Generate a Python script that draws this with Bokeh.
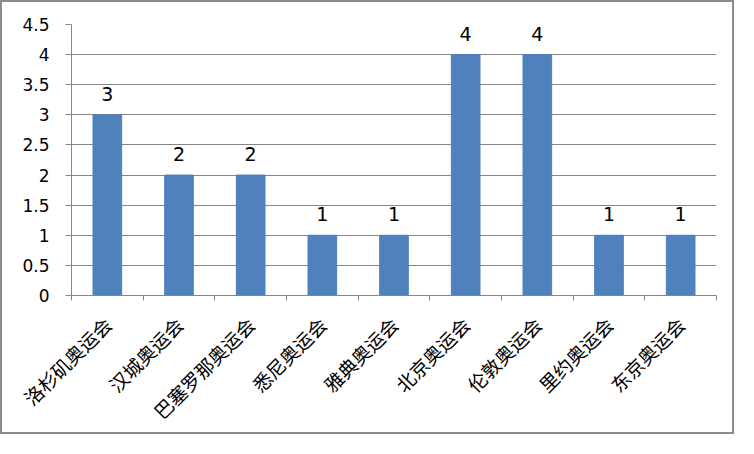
import math
from bokeh.plotting import figure
from bokeh.models import ColumnDataSource, FixedTicker, Range1d, LabelSet
from bokeh.core.properties import value
from bokeh.embed import file_html
from bokeh.resources import INLINE

categories = ["洛杉矶奥运会", "汉城奥运会", "巴塞罗那奥运会", "悉尼奥运会", "雅典奥运会",
              "北京奥运会", "伦敦奥运会", "里约奥运会", "东京奥运会"]
values = [3, 2, 2, 1, 1, 4, 4, 1, 1]
y_ticks = [0, 0.5, 1, 1.5, 2, 2.5, 3, 3.5, 4, 4.5]

xs = [i + 0.5 for i in range(len(categories))]
src = ColumnDataSource(dict(x=xs, top=values, label=[str(v) for v in values]))

p = figure(width=734, height=434, output_backend="svg", toolbar_location=None,
           x_range=Range1d(0, len(categories)), y_range=Range1d(0, 4.5),
           min_border_left=69, min_border_right=20, min_border_top=22, min_border_bottom=138)
p.styles = {"border": "2px solid #8c8c8c"}
p.outline_line_color = None
p.background_fill_color = "white"
p.border_fill_color = "white"

p.vbar(x="x", top="top", width=0.4, bottom=0, source=src, color="#4F81BD")
labels = LabelSet(x="x", y="top", text="label", source=src, text_align="center",
                  text_baseline="alphabetic", y_offset=14, text_font_size="19px",
                  text_font=value("DejaVu Sans"), text_color="black")
p.add_layout(labels)

# x axis
p.xaxis.ticker = FixedTicker(ticks=xs, minor_ticks=list(range(len(categories) + 1)))
p.xaxis.major_label_overrides = {x: c for x, c in zip(xs, categories)}
p.xaxis.major_label_orientation = math.pi / 4
p.xaxis.major_tick_out = 0
p.xaxis.major_tick_in = 0
p.xaxis.minor_tick_out = 5
p.xaxis.minor_tick_in = 0
p.xaxis.minor_tick_line_color = "#868686"
p.xaxis.axis_line_color = "#868686"
p.xaxis.major_label_text_font = "Noto Sans CJK SC"
p.xaxis.major_label_text_font_size = "19px"
p.xaxis.major_label_text_color = "black"
p.xaxis.major_label_standoff = 20

# y axis
p.yaxis.ticker = FixedTicker(ticks=y_ticks)
p.yaxis.major_label_overrides = {t: (f"{t:g}") for t in y_ticks}
p.yaxis.major_tick_out = 6
p.yaxis.major_tick_in = 0
p.yaxis.minor_tick_line_color = None
p.yaxis.major_tick_line_color = "#868686"
p.yaxis.axis_line_color = "#868686"
p.yaxis.major_label_text_font = "DejaVu Sans"
p.yaxis.major_label_text_font_size = "17px"
p.yaxis.major_label_text_color = "black"
p.yaxis.major_label_standoff = 16

p.xgrid.grid_line_color = None
p.ygrid.ticker = FixedTicker(ticks=y_ticks)
p.ygrid.grid_line_color = "#868686"

open("out.html", "w").write(file_html(p, INLINE))
